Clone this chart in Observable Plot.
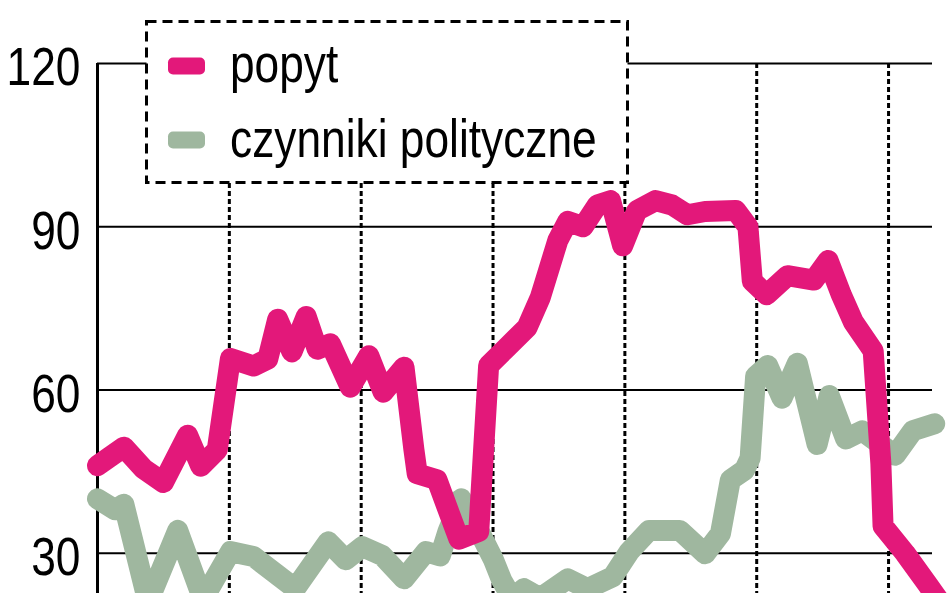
<!DOCTYPE html>
<html>
<head>
<meta charset="utf-8">
<script src="https://cdn.jsdelivr.net/npm/d3@7"></script>
<script src="https://cdn.jsdelivr.net/npm/@observablehq/plot@0.6"></script>
<style>
  html, body { margin: 0; padding: 0; background: #fff; overflow: hidden; }
  #wrap { position: relative; width: 948px; height: 593px; overflow: hidden; }
  #legend { position: absolute; left: 0; top: 0; }
</style>
</head>
<body>
<div id="wrap">
  <div id="chart"></div>
  <svg id="legend" width="948" height="200"></svg>
</div>
<script>
// ---------- data ----------
const seriesNames  = ["popyt", "czynniki polityczne"];
const seriesColors = ["#e3187a", "#9fb79f"];

// popyt (months from the left edge, index value)
const popytMonth = [0, 2.4, 4.2, 6.0, 8.2, 9.4, 10.9, 12.1, 14.2, 15.5, 16.4, 17.7, 19.0, 20.0, 21.2, 23.0,
  24.7, 26.0, 27.9, 28.8, 29.1, 30.9, 31.9, 32.9, 34.7, 35.6, 37.1, 39.1, 40.3, 41.9, 42.8, 44.2, 45.5,
  46.7, 47.8, 49.1, 50.8, 52.3, 53.7, 55.3, 58.1, 59.2, 59.6, 60.9, 62.8, 65.2, 66.5, 67.7, 68.8, 70.6,
  71.3, 71.5, 73.5, 75.5, 76.7];
const popytValue = [46.1, 49.5, 45.5, 43, 51.7, 46, 49, 65.8, 64.4, 65.7, 73, 67, 73.5, 67.5, 68.5, 60.5,
  66.3, 59.6, 64.2, 49, 44.6, 43.5, 38, 32.6, 34, 64.5, 67.5, 71.5, 77, 87.5, 91, 90, 94,
  94.8, 86.5, 93, 94.8, 94, 92.2, 92.8, 93, 90, 80, 77.5, 81, 80.2, 83.8, 77.5, 72.5, 67.2,
  46.5, 35, 30, 24.4, 21];

// czynniki polityczne
const politykaMonth = [0, 1.6, 2.4, 4.6, 7.3, 9.6, 12.1, 14.2, 18.0, 21.0, 22.6, 24.1, 25.9, 27.9, 29.9,
  31.2, 31.9, 33.1, 33.8, 35.0, 36.0, 36.8, 37.8, 38.8, 40.3, 42.8, 44.6, 46.9, 48.4, 50.2, 53.0, 55.3,
  56.7, 57.6, 58.9, 59.4, 59.9, 61.0, 62.3, 63.7, 65.5, 66.6, 68.1, 69.6, 72.6, 74.2, 76.2];
const politykaValue = [40, 38, 39, 21, 34.2, 21.5, 30.3, 29.4, 23.5, 32.1, 28.8, 31.2, 29.6, 25.3, 30.3,
  29.5, 34, 40, 37.5, 33, 29, 25, 21.5, 23.5, 21.8, 25.3, 23.5, 25.7, 30.3, 34.2, 34.2, 29.9,
  33.6, 43.5, 45.3, 47.5, 62.5, 64.5, 58.5, 64.9, 50, 59, 51, 52.5, 48, 52.5, 53.8];

const yTicks = [30, 60, 90, 120];
const xTicks = [12, 24, 36, 48, 60, 72];

// ---------- tables ----------
const popyt = popytMonth.map((m, i) => ({month: m, value: popytValue[i]}));
const polityka = politykaMonth.map((m, i) => ({month: m, value: politykaValue[i]}));

const FONT = '"Liberation Sans", Arial, sans-serif';
const LINE_W = 21;

const chart = Plot.plot({
  width: 948,
  height: 716,
  marginTop: 63,
  marginBottom: 0,
  marginLeft: 97,
  marginRight: 16,
  x: {domain: [0, 76], axis: null},
  y: {domain: [0, 120], axis: null},
  style: {fontFamily: FONT, background: "transparent", color: "#000"},
  marks: [
    Plot.ruleY(yTicks, {stroke: "#000", strokeWidth: 2}),
    Plot.ruleX(xTicks, {y1: 120, y2: 0, stroke: "#000", strokeWidth: 3, strokeDasharray: "5,3"}),
    Plot.ruleX([0], {y1: 120, y2: 0, stroke: "#000", strokeWidth: 3}),
    Plot.axisY({ticks: yTicks, tickSize: 0, tickPadding: 17, fontSize: 54, dy: 4.5, label: null, fill: "#000"}),
    Plot.line(polityka, {x: "month", y: "value", stroke: seriesColors[1], strokeWidth: LINE_W,
      strokeLinejoin: "round", strokeLinecap: "round", curve: "linear"}),
    Plot.line(popyt, {x: "month", y: "value", stroke: seriesColors[0], strokeWidth: LINE_W,
      strokeLinejoin: "round", strokeLinecap: "round", curve: "linear"})
  ]
});
document.getElementById("chart").appendChild(chart);

// ---------- legend ----------
const lg = d3.select("#legend");
lg.append("rect")
  .attr("x", 146.5).attr("y", 21.5).attr("width", 481).attr("height", 161)
  .attr("fill", "#fff").attr("stroke", "#000").attr("stroke-width", 3)
  .attr("stroke-dasharray", "10,6");
const rows = [{y: 66, ty: 82}, {y: 140, ty: 157}];
seriesNames.forEach((name, i) => {
  lg.append("rect")
    .attr("x", 168).attr("y", rows[i].y - 8.5).attr("width", 37).attr("height", 17)
    .attr("rx", 5).attr("fill", seriesColors[i]);
  lg.append("text")
    .attr("x", 230).attr("y", rows[i].ty)
    .attr("font-family", FONT).attr("font-size", 54).attr("fill", "#000")
    .text(name);
});

// narrow the type (the reference uses a condensed face)
d3.selectAll("#chart svg text, #legend text").each(function () {
  const w = this.getComputedTextLength();
  if (w > 0) {
    this.setAttribute("textLength", (w * 0.82).toFixed(1));
    this.setAttribute("lengthAdjust", "spacingAndGlyphs");
  }
});
</script>
</body>
</html>
